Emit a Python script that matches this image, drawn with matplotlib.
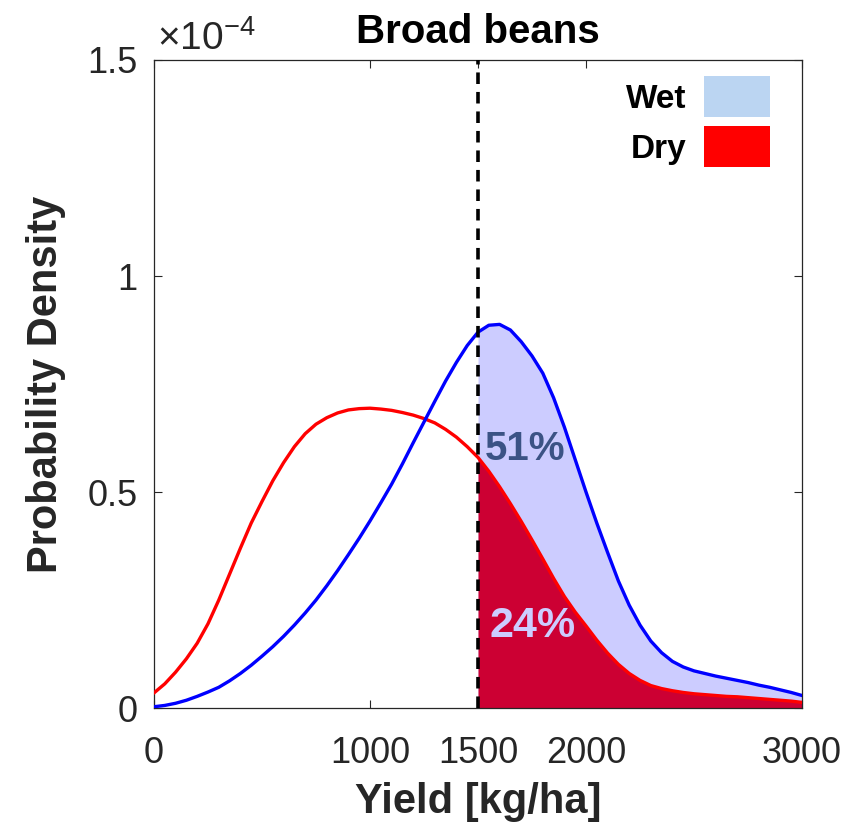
import matplotlib
matplotlib.use("Agg")
import matplotlib.pyplot as plt
from matplotlib.patches import Patch

plt.rcParams["font.family"] = ["Liberation Sans", "DejaVu Sans"]
plt.rcParams["mathtext.fontset"] = "custom"
plt.rcParams["mathtext.rm"] = "Liberation Sans"

# yield grid [kg/ha], densities (units of 1e-4)
yield_x = [0, 50, 100, 150, 200, 250, 300, 350, 400, 450, 500, 550, 600, 650, 700, 750,
           800, 850, 900, 950, 1000, 1050, 1100, 1150, 1200, 1250, 1300, 1350, 1400, 1450,
           1500, 1550, 1600, 1650, 1700, 1750, 1800, 1850, 1900, 1950, 2000, 2050, 2100,
           2150, 2200, 2250, 2300, 2350, 2400, 2450, 2500, 2550, 2600, 2650, 2700, 2750,
           2800, 2850, 2900, 2950, 3000]
dry = [0.035, 0.056, 0.083, 0.114, 0.150, 0.195, 0.250, 0.310, 0.370, 0.428, 0.478, 0.526,
       0.568, 0.605, 0.635, 0.657, 0.672, 0.683, 0.690, 0.693, 0.694, 0.692, 0.689, 0.684,
       0.678, 0.670, 0.660, 0.645, 0.627, 0.605, 0.580, 0.548, 0.512, 0.473, 0.432, 0.389,
       0.345, 0.300, 0.258, 0.222, 0.190, 0.157, 0.127, 0.101, 0.080, 0.064, 0.052, 0.045,
       0.040, 0.036, 0.033, 0.031, 0.029, 0.027, 0.026, 0.024, 0.022, 0.020, 0.018, 0.016,
       0.013]
wet = [0.003, 0.006, 0.011, 0.018, 0.027, 0.037, 0.048, 0.063, 0.080, 0.099, 0.120, 0.142,
       0.166, 0.192, 0.220, 0.250, 0.283, 0.318, 0.355, 0.393, 0.433, 0.475, 0.518, 0.565,
       0.614, 0.662, 0.710, 0.757, 0.800, 0.839, 0.870, 0.886, 0.888, 0.875, 0.848, 0.815,
       0.775, 0.718, 0.650, 0.575, 0.500, 0.428, 0.360, 0.294, 0.238, 0.192, 0.155, 0.128,
       0.108, 0.095, 0.086, 0.080, 0.074, 0.069, 0.064, 0.059, 0.053, 0.048, 0.042, 0.036,
       0.029]

threshold = 1500
wet_share = "51%"
dry_share = "24%"
x_ticks = [0, 1000, 1500, 2000, 3000]
y_ticks = [0, 0.5, 1, 1.5]
y_ticklabels = ["0", "0.5", "1", "1.5"]

fig = plt.figure(figsize=(8.47, 8.23), dpi=100)
ax = fig.add_axes([0.1818, 0.1397, 0.7651, 0.7874])

# shaded tails above the threshold
tail_x = [x for x in yield_x if x >= threshold]
tail_wet = [w for x, w in zip(yield_x, wet) if x >= threshold]
tail_dry = [d for x, d in zip(yield_x, dry) if x >= threshold]
ax.fill_between(tail_x, 0, tail_wet, color="#CCCCFF", lw=0, zorder=1)
ax.fill_between(tail_x, 0, tail_dry, color="#CC0033", lw=0, zorder=2)

ax.plot(yield_x, dry, color="#FF0000", lw=2.4, zorder=3)
ax.plot(yield_x, wet, color="#0000FF", lw=2.4, zorder=3)
ax.axvline(threshold, color="black", lw=2.6, ls=(0, (3.2, 2.2)), zorder=4)

ax.text(1530, 0.60, wet_share, fontsize=29, fontweight="bold", color="#3B5385",
        va="center", ha="left", zorder=5)
ax.text(1553, 0.19, dry_share, fontsize=31, fontweight="bold", color="#CCCCFF",
        va="center", ha="left", zorder=5)

ax.set_xlim(0, 3000)
ax.set_ylim(0, 1.5)
ax.set_xticks(x_ticks)
ax.set_yticks(y_ticks)
ax.set_yticklabels(y_ticklabels)
ax.tick_params(direction="in", top=True, right=True, length=6, width=0.8,
               labelsize=26, colors="#262626")
ax.tick_params(axis="x", pad=20)
ax.tick_params(axis="y", pad=12)
for s in ax.spines.values():
    s.set_color("#262626")
    s.set_linewidth(0.9)

ax.set_xlabel("Yield [kg/ha]", fontsize=30, fontweight="bold", color="#262626", labelpad=8)
ax.set_ylabel("Probability Density", fontsize=30, fontweight="bold", color="#262626", labelpad=15)
ax.set_title("Broad beans", fontsize=29, fontweight="bold", pad=12)
ax.text(0.005, 1.003, r"$\times$10$^{\mathregular{-4}}$", transform=ax.transAxes,
        fontsize=28, color="#262626", ha="left", va="bottom")

handles = [Patch(facecolor="#BBD5F2", edgecolor="none"),
           Patch(facecolor="#FF0000", edgecolor="none")]
ax.legend(handles, ["Wet", "Dry"], loc="upper right", bbox_to_anchor=(0.951, 0.975),
          frameon=False, markerfirst=False, handlelength=2.0, handleheight=1.5,
          labelspacing=0.28, handletextpad=0.5, borderpad=0, borderaxespad=0,
          prop={"size": 24, "weight": "bold"})

fig.savefig("out.png", dpi=100)
